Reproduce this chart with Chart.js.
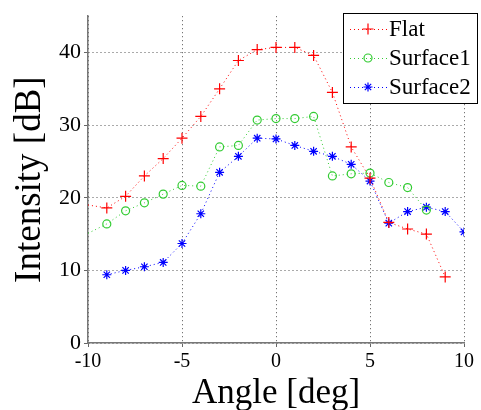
<!DOCTYPE html>
<html>
<head>
<meta charset="utf-8">
<script src="https://cdn.jsdelivr.net/npm/chart.js@4"></script>
<style>
  body { margin: 0; background: #fff; }
  #wrap { width: 481px; height: 410px; }
</style>
</head>
<body>
<div id="wrap"><canvas id="grafico" width="481" height="410"></canvas></div>
<script>
// dados
const angulos = [-10, -9, -8, -7, -6, -5, -4, -3, -2, -1, 0, 1, 2, 3, 4, 5, 6, 7, 8, 9, 10];
const flat     = [19.0, 18.6, 20.2, 23.0, 25.4, 28.2, 31.2, 35.0, 38.9, 40.4, 40.7, 40.7, 39.6, 34.5, 27.0, 22.7, 16.6, 15.7, 15.0, 9.1, null];
const surface1 = [15.1, 16.4, 18.2, 19.3, 20.5, 21.7, 21.6, 27.0, 27.2, 30.7, 30.9, 30.9, 31.2, 23.0, 23.3, 23.4, 22.1, 21.4, 18.3, null, null];
const surface2 = [null, 9.4, 10.0, 10.5, 11.1, 13.7, 17.8, 23.5, 25.7, 28.2, 28.1, 27.2, 26.4, 25.7, 24.6, 22.3, 16.5, 18.1, 18.7, 18.1, 15.3];
const xTicks = [-10, -5, 0, 5, 10];
const yTicks = [0, 10, 20, 30, 40];
const nomes = ['Flat', 'Surface1', 'Surface2'];

const FONTE = '"Liberation Serif"';
const cores = ['#ff0000', '#33cc33', '#0000ff'];
const estilos = ['cross', 'circle', 'star'];
const raios = [5.5, 4, 4.5];

function pontos(valores) {
    return angulos.map((x, i) => ({ x: x, y: valores[i] }));
}

// primeiro ponto (x=-10) sem marcador em Flat e Surface1
function raiosPara(valores, r) {
    return angulos.map((x) => (x === -10 ? 0 : r));
}

const series = [flat, surface1, surface2];
const datasets = series.map((s, k) => ({
    label: nomes[k],
    data: pontos(s),
    borderColor: cores[k],
    backgroundColor: 'rgba(0,0,0,0)',
    borderWidth: 1,
    borderDash: [1, 3],
    pointStyle: estilos[k],
    pointRadius: raiosPara(s, raios[k]),
    pointBorderColor: cores[k],
    pointBorderWidth: 1.2,
    pointBackgroundColor: 'rgba(0,0,0,0)',
    spanGaps: false,
    tension: 0
}));

// legenda desenhada com caixa, como no original
const legendaBox = {
    id: 'legendaBox',
    afterDatasetsDraw(chart) {
        const ctx = chart.ctx;
        const x0 = 343, y0 = 13, w = 134, h = 90;
        ctx.save();
        ctx.fillStyle = '#fff';
        ctx.fillRect(x0, y0, w, h);
        ctx.strokeStyle = '#000';
        ctx.lineWidth = 1;
        ctx.strokeRect(x0 + 0.5, y0 + 0.5, w, h);
        const ys = [29, 58, 87];
        nomes.forEach((nome, k) => {
            const y = ys[k];
            ctx.strokeStyle = cores[k];
            ctx.setLineDash([1, 3]);
            ctx.beginPath();
            ctx.moveTo(350, y + 0.5);
            ctx.lineTo(388, y + 0.5);
            ctx.stroke();
            ctx.setLineDash([]);
            ctx.lineWidth = 1.2;
            ctx.beginPath();
            const cx = 368, r = raios[k];
            if (estilos[k] === 'circle') {
                ctx.arc(cx, y, r, 0, Math.PI * 2);
            } else {
                ctx.moveTo(cx - r, y); ctx.lineTo(cx + r, y);
                ctx.moveTo(cx, y - r); ctx.lineTo(cx, y + r);
                if (estilos[k] === 'star') {
                    const d = r * 0.707;
                    ctx.moveTo(cx - d, y - d); ctx.lineTo(cx + d, y + d);
                    ctx.moveTo(cx - d, y + d); ctx.lineTo(cx + d, y - d);
                }
            }
            ctx.stroke();
            ctx.lineWidth = 1;
            ctx.fillStyle = '#000';
            ctx.font = '23px ' + FONTE;
            ctx.textAlign = 'left';
            ctx.textBaseline = 'middle';
            ctx.fillText(nome, 389, y + 1);
        });
        ctx.restore();
    }
};

const ctx = document.getElementById('grafico').getContext('2d');
new Chart(ctx, {
    type: 'line',
    data: { datasets: datasets },
    options: {
        responsive: false,
        animation: false,
        layout: { padding: { top: 11, right: 17, left: 0, bottom: 0 } },
        plugins: {
            legend: { display: false },
            tooltip: { enabled: false }
        },
        scales: {
            x: {
                type: 'linear',
                min: -10,
                max: 10,
                afterBuildTicks: (scale) => { scale.ticks = xTicks.map(v => ({ value: v })); },
                afterFit: (scale) => { scale.height = 67; },
                ticks: {
                    color: '#000',
                    font: { family: FONTE, size: 20 },
                    padding: 3,
                    maxRotation: 0,
                    callback: (v) => String(v)
                },
                grid: {
                    color: '#555',
                    lineWidth: 1,
                    tickLength: 4,
                    tickColor: '#666',
                    tickBorderDash: []
                },
                border: { display: true, color: '#777', width: 1.5, dash: [1, 3] },
                title: {
                    display: true,
                    text: 'Angle [deg]',
                    color: '#000',
                    font: { family: FONTE, size: 35, lineHeight: 0.9 },
                    padding: { top: 0, bottom: 0 }
                }
            },
            y: {
                type: 'linear',
                min: 0,
                max: 45,
                afterBuildTicks: (scale) => { scale.ticks = yTicks.map(v => ({ value: v })); },
                afterFit: (scale) => { scale.width = 88; },
                ticks: {
                    color: '#000',
                    font: { family: FONTE, size: 22 },
                    padding: 3,
                    callback: (v) => String(v)
                },
                grid: {
                    color: '#555',
                    lineWidth: 1,
                    tickLength: 4,
                    tickColor: '#666',
                    tickBorderDash: []
                },
                border: { display: true, color: '#777', width: 1.5, dash: [1, 3] },
                title: {
                    display: true,
                    text: 'Intensity [dB]',
                    color: '#000',
                    font: { family: FONTE, size: 37, lineHeight: 1 },
                    padding: { top: 12, bottom: 0 }
                }
            }
        }
    },
    plugins: [legendaBox]
});
</script>
</body>
</html>
